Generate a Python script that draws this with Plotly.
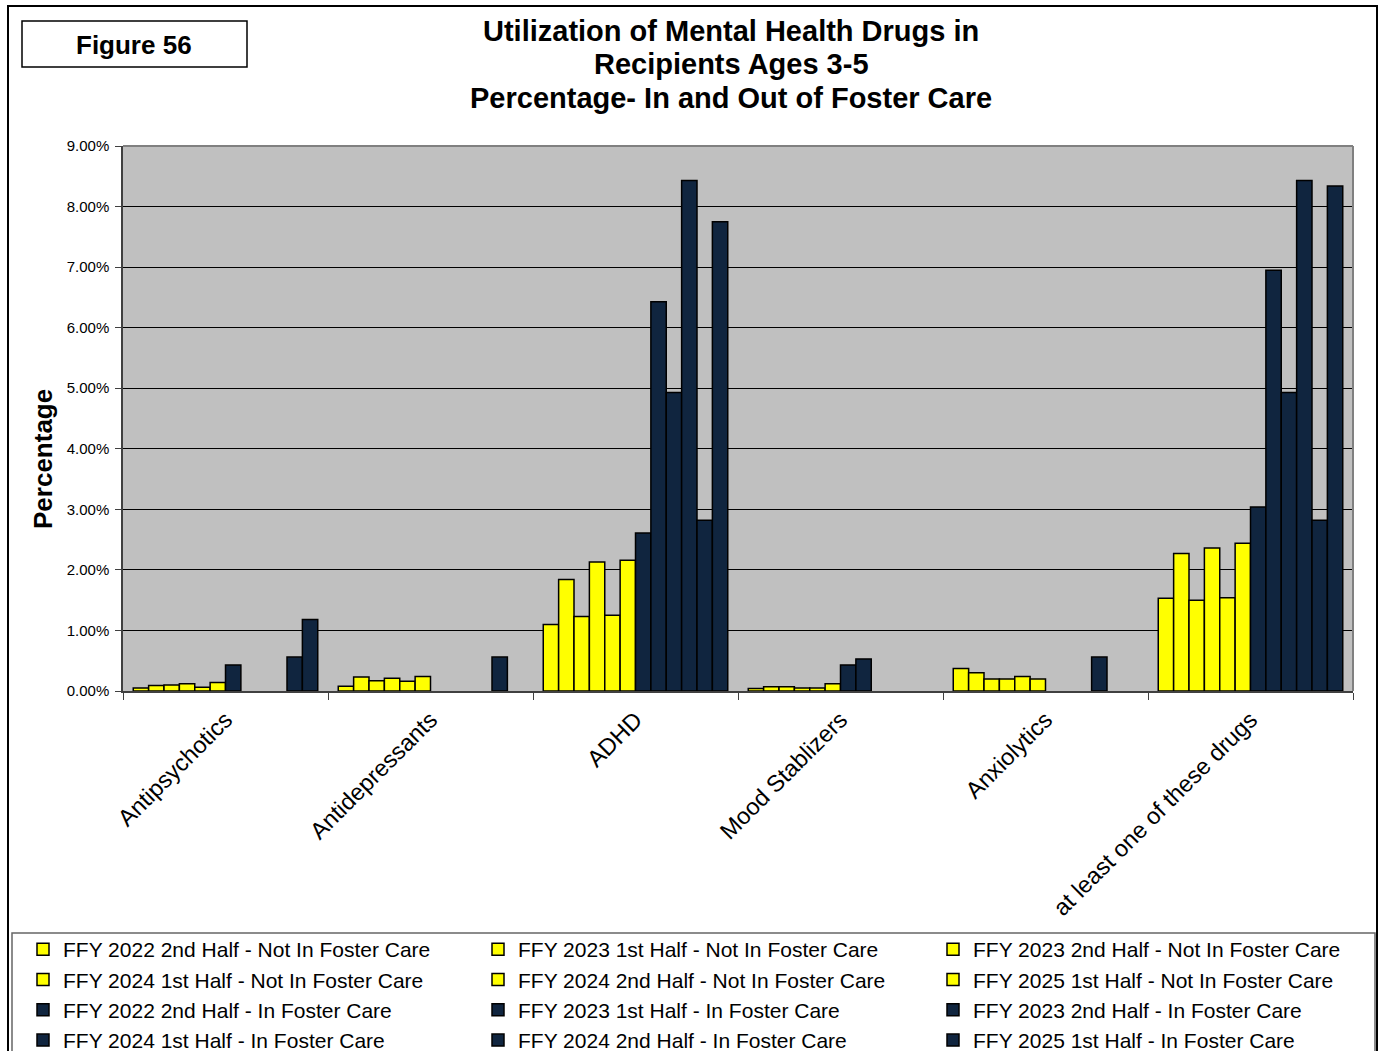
import plotly.graph_objects as go

# Drug classes shown along the x axis
categories = ["Antipsychotics", "Antidepressants", "ADHD", "Mood Stablizers",
              "Anxiolytics", "at least one of these drugs"]

# Percent of recipients (ages 3-5); None = no value reported
nfc_2022_h2 = [0.05, 0.08, 1.10, 0.04, 0.37, 1.53]
nfc_2023_h1 = [0.09, 0.23, 1.84, 0.07, 0.30, 2.27]
nfc_2023_h2 = [0.10, 0.17, 1.23, 0.07, 0.20, 1.50]
nfc_2024_h1 = [0.12, 0.21, 2.13, 0.05, 0.20, 2.36]
nfc_2024_h2 = [0.06, 0.16, 1.25, 0.05, 0.24, 1.54]
nfc_2025_h1 = [0.14, 0.24, 2.16, 0.12, 0.20, 2.44]
fc_2022_h2 = [0.43, None, 2.61, 0.43, None, 3.04]
fc_2023_h1 = [None, None, 6.43, 0.53, None, 6.95]
fc_2023_h2 = [None, None, 4.93, None, None, 4.93]
fc_2024_h1 = [None, None, 8.43, None, 0.56, 8.43]
fc_2024_h2 = [0.56, 0.56, 2.82, None, None, 2.82]
fc_2025_h1 = [1.18, None, 7.75, None, None, 8.34]

series = [
    ("FFY 2022 2nd Half - Not In Foster Care", nfc_2022_h2, "#FFFF00"),
    ("FFY 2023 1st Half - Not In Foster Care", nfc_2023_h1, "#FFFF00"),
    ("FFY 2023 2nd Half - Not In Foster Care", nfc_2023_h2, "#FFFF00"),
    ("FFY 2024 1st Half - Not In Foster Care", nfc_2024_h1, "#FFFF00"),
    ("FFY 2024 2nd Half - Not In Foster Care", nfc_2024_h2, "#FFFF00"),
    ("FFY 2025 1st Half - Not In Foster Care", nfc_2025_h1, "#FFFF00"),
    ("FFY 2022 2nd Half - In Foster Care", fc_2022_h2, "#10253F"),
    ("FFY 2023 1st Half - In Foster Care", fc_2023_h1, "#10253F"),
    ("FFY 2023 2nd Half - In Foster Care", fc_2023_h2, "#10253F"),
    ("FFY 2024 1st Half - In Foster Care", fc_2024_h1, "#10253F"),
    ("FFY 2024 2nd Half - In Foster Care", fc_2024_h2, "#10253F"),
    ("FFY 2025 1st Half - In Foster Care", fc_2025_h1, "#10253F"),
]

FONT = "Liberation Sans, Arial, sans-serif"
W, H = 1379, 1051
L, R, T, B = 123, 1353, 146, 691


def px(x):
    return (x - L) / (R - L)


def py(y):
    return (B - y) / (B - T)


# legend laid out as three columns, filled row by row
legend_ids = ["legend", "legend2", "legend3"]

fig = go.Figure()
for i, (name, vals, color) in enumerate(series):
    fig.add_trace(go.Bar(
        x=categories, y=vals, name=name,
        legend=legend_ids[i % 3],
        marker=dict(color=color, line=dict(color="black", width=1.5)),
    ))

shapes = [
    # outer frame
    dict(type="rect", xref="paper", yref="paper", x0=px(8), x1=px(1377),
         y0=py(1060), y1=py(6), line=dict(color="black", width=2)),
    # figure number box
    dict(type="rect", xref="paper", yref="paper", x0=px(22), x1=px(247),
         y0=py(67), y1=py(21), line=dict(color="black", width=1.5)),
    # legend box
    dict(type="rect", xref="paper", yref="paper", x0=px(12), x1=px(1375),
         y0=py(1060), y1=py(933), line=dict(color="#666666", width=1.5)),
    # plot area border (top/right)
    dict(type="line", xref="paper", yref="paper", x0=0, x1=1, y0=1, y1=1,
         line=dict(color="#808080", width=2)),
    dict(type="line", xref="paper", yref="paper", x0=1, x1=1, y0=0, y1=1,
         line=dict(color="#808080", width=2)),
]

annotations = [
    dict(text="<b>Figure 56</b>", x=px(134), y=py(45), xref="paper", yref="paper",
         showarrow=False, font=dict(size=26, color="black", family=FONT),
         xanchor="center", yanchor="middle"),
    dict(text="<b>Percentage</b>", x=px(43), y=py(459), xref="paper", yref="paper",
         showarrow=False, textangle=-90, font=dict(size=26, color="black", family=FONT),
         xanchor="center", yanchor="middle"),
]
for line, yy in [("Utilization of Mental Health Drugs in", 31),
                 ("Recipients Ages 3-5", 64),
                 ("Percentage- In and Out of Foster Care", 98)]:
    annotations.append(dict(
        text="<b>" + line + "</b>", x=px(731), y=py(yy), xref="paper", yref="paper",
        showarrow=False, font=dict(size=29, color="black", family=FONT),
        xanchor="center", yanchor="middle"))

legend_style = dict(
    orientation="v", xanchor="left", yanchor="top",
    xref="paper", yref="paper", y=py(929),
    font=dict(size=21, family=FONT, color="black"),
    bgcolor="rgba(0,0,0,0)", traceorder="normal", itemclick=False,
)

fig.update_layout(
    width=W, height=H,
    margin=dict(l=L, r=W - R, t=T, b=H - B, autoexpand=False),
    paper_bgcolor="white",
    plot_bgcolor="#C0C0C0",
    barmode="group",
    bargap=0.1,
    bargroupgap=0,
    font=dict(family=FONT, color="black"),
    shapes=shapes,
    annotations=annotations,
    showlegend=True,
    legend=dict(legend_style, x=px(23)),
    legend2=dict(legend_style, x=px(478)),
    legend3=dict(legend_style, x=px(933)),
    xaxis=dict(
        type="category",
        tickangle=-45,
        tickfont=dict(size=23.5, family=FONT, color="black"),
        ticks="outside", tickson="boundaries", ticklen=7,
        tickcolor="#404040",
        ticklabelstandoff=4,
        showline=True, linecolor="#404040", linewidth=1.5,
        showgrid=False,
    ),
    yaxis=dict(
        range=[0, 9],
        dtick=1,
        tickformat=".2f",
        ticksuffix="%",
        tickfont=dict(size=15, family=FONT, color="black"),
        ticks="outside", ticklen=6, tickcolor="#404040",
        ticklabelstandoff=3,
        showline=True, linecolor="#404040", linewidth=1.5,
        showgrid=True, gridcolor="#000000", gridwidth=1,
        zeroline=False,
    ),
)

fig.write_html("out.html")
